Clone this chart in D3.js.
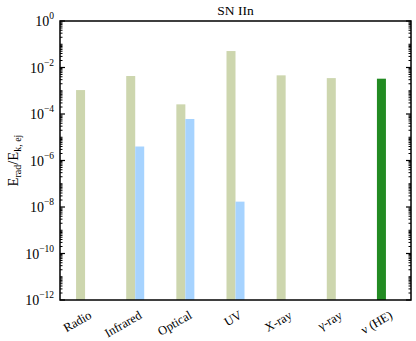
<!DOCTYPE html>
<html><head><meta charset="utf-8">
<script src="https://cdn.jsdelivr.net/npm/d3@7"></script>
<style>body{margin:0;background:#fff}svg{display:block}text{font-family:"Liberation Serif","DejaVu Serif",serif;fill:#000}</style>
</head><body><svg id="c" width="416" height="341"></svg>
<script>
const categories = ["Radio","Infrared","Optical","UV","X-ray","\u03b3-ray","\u03bd (HE)"];
const totalValues = [1.07e-3, 4.3e-3, 2.6e-4, 5.1e-2, 4.6e-3, 3.5e-3, null];
const thermalValues = [null, 4.0e-6, 6.1e-5, 1.7e-8, null, null, null];
const neutrinoValues = [null, null, null, null, null, null, 3.3e-3];
const yTickExps = [0,-2,-4,-6,-8,-10,-12];

const svg = d3.select("#c");
const m = {l:60, r:5, t:21, b:41};
const W = 416, H = 341;
const x = d3.scaleBand().domain(categories).range([m.l, W-m.r]);
const y = d3.scaleLog().domain([1e-12, 1]).range([H-m.b, m.t]);
const bw = 9;
const base = y(1e-12);

function bars(vals, color, off){
  svg.append("g").selectAll("rect").data(categories.map((c,i)=>({c, v:vals[i]})).filter(d=>d.v!=null))
    .join("rect")
    .attr("x", d=>x(d.c)+x.bandwidth()/2+off)
    .attr("width", bw)
    .attr("y", d=>y(d.v))
    .attr("height", d=>base-y(d.v))
    .attr("fill", color);
}
bars(totalValues, "#cdd6ae", -bw);
bars(thermalValues, "#a6d3ff", 0);
bars(neutrinoValues, "#228b22", -bw);

// ticks
const minor = [];
for(let e=-12;e<0;e++) for(let k=1;k<10;k++){ const v=k*Math.pow(10,e); if(k>1||e%2!==0) minor.push(v); }
const gl = svg.append("g");
[m.l, W-m.r].forEach((xx,side)=>{
  const dir = side===0?1:-1;
  gl.selectAll(null).data(minor).join("line")
    .attr("x1",xx).attr("x2",xx+dir*2.5).attr("y1",d=>y(d)).attr("y2",d=>y(d))
    .attr("stroke","#000").attr("stroke-width",1);
  gl.selectAll(null).data(yTickExps).join("line")
    .attr("x1",xx).attr("x2",xx+dir*5).attr("y1",d=>y(Math.pow(10,d))).attr("y2",d=>y(Math.pow(10,d)))
    .attr("stroke","#000").attr("stroke-width",1.2);
});
// frame
svg.append("rect").attr("x",m.l).attr("y",m.t).attr("width",W-m.r-m.l).attr("height",H-m.b-m.t)
  .attr("fill","none").attr("stroke","#000").attr("stroke-width",1.5);

// y labels
const yl = svg.append("g");
yTickExps.forEach(e=>{
  const t = yl.append("text").attr("x", m.l-6).attr("y", y(Math.pow(10,e))+5).attr("text-anchor","end").attr("font-size",14);
  t.append("tspan").text("10");
  t.append("tspan").attr("dy",-7).attr("font-size",9.5).text(e===0?"0":"\u2212"+(-e));
});

// x labels
categories.forEach(c=>{
  const cx = x(c)+x.bandwidth()/2;
  svg.append("text").attr("transform",`translate(${cx+3},${H-m.b+10}) rotate(-30)`)
    .attr("text-anchor","end").attr("font-size",12.5).attr("dy","0.7em").text(c);
});

// y axis title
const yt = svg.append("text").attr("transform",`translate(18,${(m.t+H-m.b)/2}) rotate(-90)`)
  .attr("text-anchor","middle").attr("font-size",14.5);
yt.append("tspan").text("E");
yt.append("tspan").attr("font-size",10).attr("dy",3).text("rad");
yt.append("tspan").attr("dy",-3).text("/E");
yt.append("tspan").attr("font-size",10).attr("dy",3).text("k, ej");

// title
svg.append("text").attr("x",(m.l+W-m.r)/2).attr("y",15).attr("text-anchor","middle").attr("font-size",13.5).text("SN IIn");
</script></body></html>
